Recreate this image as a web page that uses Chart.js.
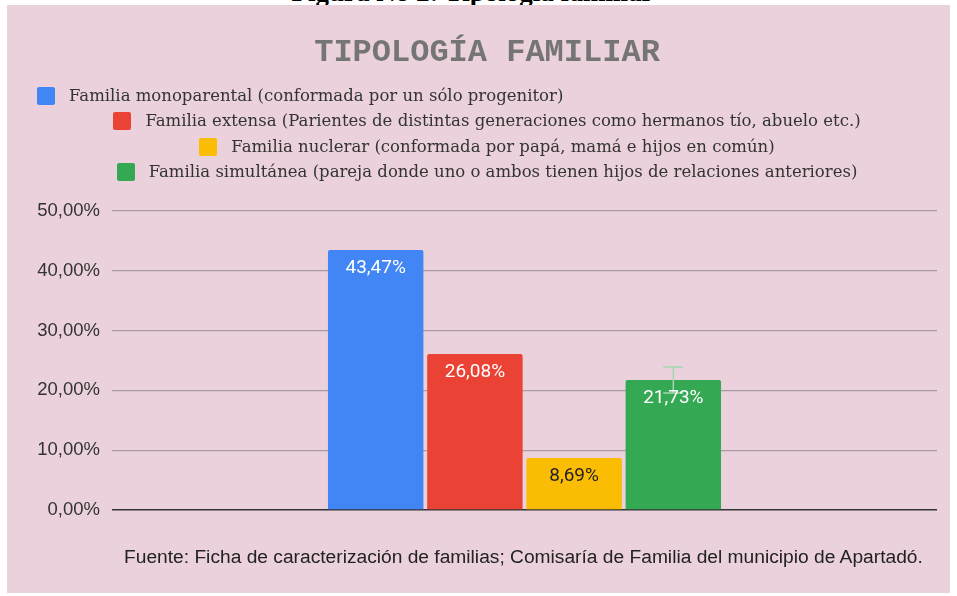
<!DOCTYPE html>
<html>
<head>
<meta charset="utf-8">
<script src="https://cdn.jsdelivr.net/npm/chart.js@4.4.1/dist/chart.umd.min.js"></script>
<style>
    body { margin: 0; background: #fff; width: 957px; height: 596px; overflow: hidden; position: relative; }
    #caption { position: absolute; left: 0; width: 945px; top: -23px; text-align: center; font: bold 27px "Liberation Serif"; color: #000; z-index: 0; }
    #box { position: absolute; left: 7px; top: 5px; width: 943px; height: 588px; background: #ead1dc; z-index: 1; }
    #title { position: absolute; left: 0; width: 974px; top: 34px; line-height: 32px; text-align: center; font: bold 32px "Liberation Mono"; color: #757575; z-index: 3; }
    #legend .row { position: absolute; font: 16.5px "DejaVu Serif"; color: #333; white-space: nowrap; height: 18px; line-height: 18px; z-index: 3; }
    #legend .sw { display: inline-block; width: 18px; height: 18px; border-radius: 2px; vertical-align: top; margin-right: 14px; }
    #footer { position: absolute; left: 124px; top: 546px; font: 19.2px "Liberation Sans"; color: #222; z-index: 3; white-space: nowrap; }
    #wrap { position: absolute; left: 0; top: 0; z-index: 2; }
</style>
</head>
<body>
<div id="caption">Figura No 2: Tipología familiar</div>
<div id="box"></div>
<div id="title">TIPOLOGÍA FAMILIAR</div>
<div id="legend"></div>
<div id="wrap"><canvas id="myChart" width="957" height="596"></canvas></div>
<div id="footer">Fuente: Ficha de caracterización de familias; Comisaría de Familia del municipio de Apartadó.</div>
<script>
(() => {
    'use strict'

    const categories = ['']
    const seriesNames = [
        'Familia monoparental (conformada por un sólo progenitor)',
        'Familia extensa (Parientes de distintas generaciones como hermanos tío, abuelo etc.)',
        'Familia nuclerar (conformada por papá, mamá e hijos en común)',
        'Familia simultánea (pareja donde uno o ambos tienen hijos de relaciones anteriores)'
    ]
    const seriesValues = [43.47, 26.08, 8.69, 21.73]
    const errorValues = [0, 0, 0, 2.17]
    const yTicks = [0, 10, 20, 30, 40, 50]
    const colors = ['#4285f4', '#ea4335', '#fbbc04', '#34a853']
    const labelColors = ['#fff', '#fff', '#222', '#fff']

    const fmt = v => v.toFixed(2).replace('.', ',') + '%'

    // legend (first row sits to the left, the others are centered)
    const legend = document.getElementById('legend')
    const rowTops = [87, 112, 138, 163]
    seriesNames.forEach((name, i) => {
        const row = document.createElement('div')
        row.className = 'row'
        row.style.top = rowTops[i] + 'px'
        if (i === 0) {
            row.style.left = '37px'
        } else {
            row.style.left = '0px'
            row.style.width = '974px'
            row.style.textAlign = 'center'
        }
        row.innerHTML = '<span class="sw" style="background:' + colors[i] + '"></span>' + name
        legend.appendChild(row)
    })

    const barStuff = {
        id: 'barStuff',
        afterDatasetsDraw(chart) {
            const ctx = chart.ctx
            const y = chart.scales.y
            ctx.save()
            chart.data.datasets.forEach((ds, i) => {
                const el = chart.getDatasetMeta(i).data[0]
                const err = errorValues[i]
                if (err) {
                    const top = y.getPixelForValue(seriesValues[i] + err)
                    const bot = y.getPixelForValue(seriesValues[i] - err)
                    ctx.strokeStyle = '#a3d9b1'
                    ctx.lineWidth = 1.5
                    ctx.beginPath()
                    ctx.moveTo(el.x, top); ctx.lineTo(el.x, bot)
                    ctx.moveTo(el.x - 10, top); ctx.lineTo(el.x + 10, top)
                    ctx.moveTo(el.x - 10, bot); ctx.lineTo(el.x + 10, bot)
                    ctx.stroke()
                }
            })
            ctx.font = '19px Roboto'
            ctx.textAlign = 'center'
            ctx.textBaseline = 'middle'
            chart.data.datasets.forEach((ds, i) => {
                const el = chart.getDatasetMeta(i).data[0]
                ctx.fillStyle = labelColors[i]
                ctx.fillText(fmt(ds.data[0]), el.x, el.y + 18)
            })
            ctx.restore()
        }
    }

    const ctx = document.getElementById('myChart')
    // eslint-disable-next-line no-unused-vars
    const myChart = new Chart(ctx, {
        type: 'bar',
        data: {
            labels: categories,
            datasets: seriesNames.map((name, i) => ({
                label: name,
                data: [seriesValues[i]],
                backgroundColor: colors[i],
                borderRadius: 2,
                borderSkipped: 'bottom',
                categoryPercentage: 0.481,
                barPercentage: 0.962
            }))
        },
        options: {
            responsive: false,
            animation: false,
            layout: { padding: { top: 211, left: 0, right: 20, bottom: 86 } },
            plugins: {
                legend: { display: false },
                tooltip: { enabled: false }
            },
            scales: {
                x: { display: false },
                y: {
                    min: 0,
                    max: 50,
                    afterBuildTicks: s => { s.ticks = yTicks.map(v => ({ value: v })) },
                    afterFit: s => { s.width = 112 },
                    border: { display: false },
                    grid: {
                        drawTicks: false,
                        color: c => c.tick && c.tick.value === 0 ? '#333' : '#a99ba2',
                        lineWidth: c => c.tick && c.tick.value === 0 ? 1.5 : 1.3
                    },
                    ticks: {
                        padding: 12,
                        color: '#333',
                        font: { family: 'Liberation Sans', size: 18.5 },
                        callback: v => fmt(v)
                    }
                }
            }
        },
        plugins: [barStuff]
    })
})()
</script>
</body>
</html>
